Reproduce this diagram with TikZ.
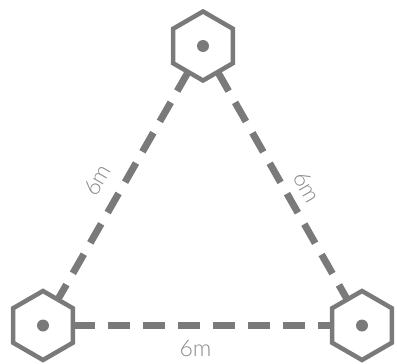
\documentclass[tikz,border=0pt]{standalone}
\usepackage{fontspec}
\setmainfont{Lato}[UprightFont=* Light]
\usepackage{tikz}
\usepackage{xcolor}
\usetikzlibrary{shapes.geometric}
\definecolor{hexgray}{HTML}{7A7A7A}
\definecolor{textgray}{HTML}{8A8A8A}
\tikzstyle{anchorhex} = [draw=hexgray, line width=4.5pt, regular polygon, regular polygon sides=6,
    shape border rotate=30, minimum size=69pt, inner sep=0pt, outer sep=0pt, fill=white]
\tikzstyle{rangeline} = [draw=hexgray, line width=7pt, dash pattern=on 22pt off 13pt]
\tikzstyle{dist} = [text=textgray, font=\fontsize{23}{23}\selectfont, inner sep=0pt]

\begin{document}
\begin{tikzpicture}[x=1pt, y=-1pt]
\useasboundingbox (0,0) rectangle (397,364);

\node[anchorhex] (top) at (203,46) {};
\node[anchorhex] (left) at (43,325.5) {};
\node[anchorhex] (right) at (362,325.5) {};

\draw[rangeline] (top) -- (left);
\draw[rangeline] (top) -- (right);
\draw[rangeline] (left) -- (right);

\fill[hexgray] (top.center) circle (6pt);
\fill[hexgray] (left.center) circle (6pt);
\fill[hexgray] (right.center) circle (6pt);

\node[dist, rotate=60] (dleft) at (97,180) {6m};
\node[dist, rotate=-60] (dright) at (307,187) {6m};
\node[dist] (dbottom) at (195.5,348.5) {6m};
\end{tikzpicture}
\end{document}
